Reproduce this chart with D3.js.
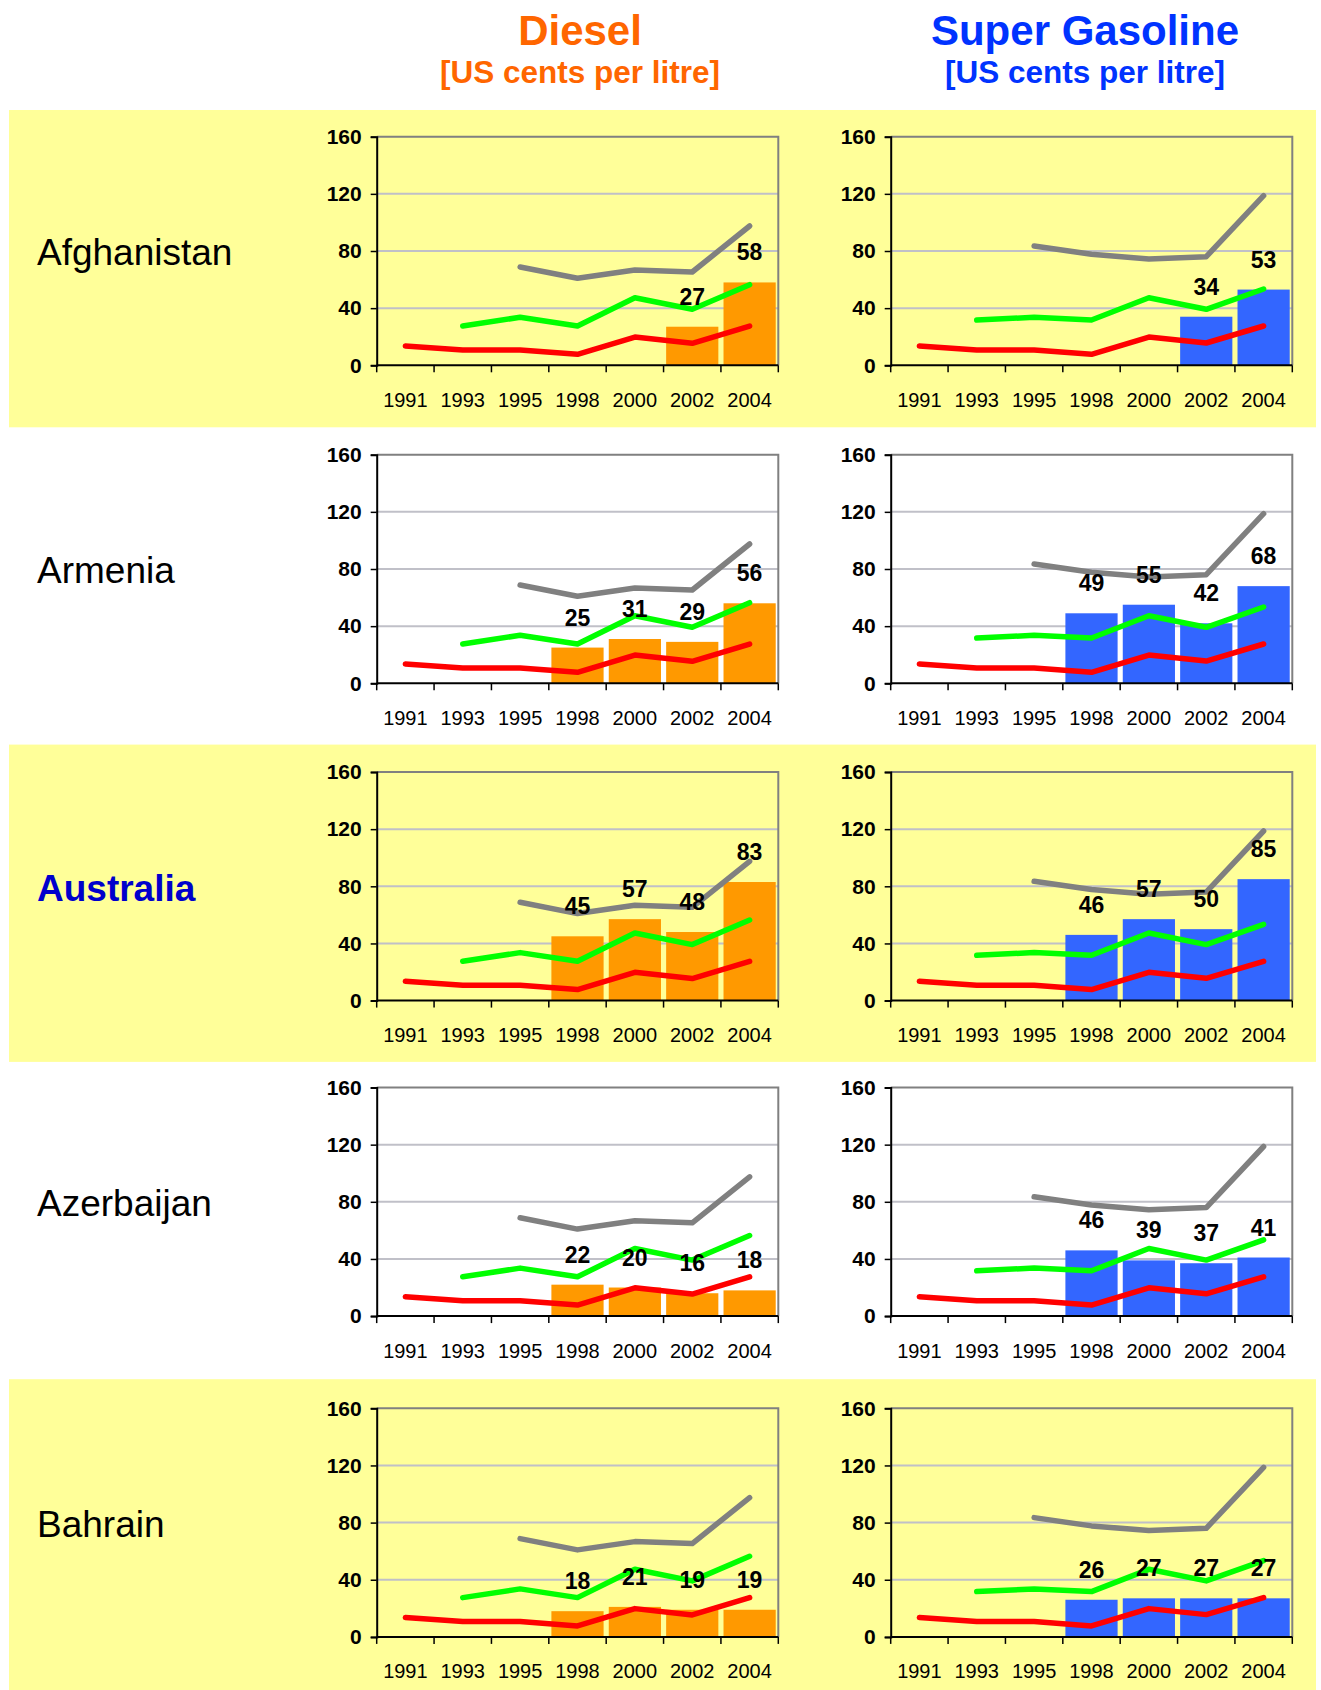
<!DOCTYPE html>
<html>
<head>
<meta charset="utf-8">
<script src="https://cdn.jsdelivr.net/npm/d3@7/dist/d3.min.js"></script>
<style>
  html, body { margin: 0; padding: 0; background: #ffffff; }
  svg { display: block; font-family: "Liberation Sans", Arial, sans-serif; }
</style>
</head>
<body>
<svg id="chart" width="1321" height="1690"></svg>
<script>
// ---- data ----
const years = ["1991", "1993", "1995", "1998", "2000", "2002", "2004"];
const countries = ["Afghanistan", "Armenia", "Australia", "Azerbaijan", "Bahrain"];
const highlighted = "Australia";
const yTicks = [0, 40, 80, 120, 160];

// retail prices per country (US cents per litre), null = no survey
const dieselPrices = [
  [null, null, null, null, null, 27, 58],
  [null, null, null, 25, 31, 29, 56],
  [null, null, null, 45, 57, 48, 83],
  [null, null, null, 22, 20, 16, 18],
  [null, null, null, 18, 21, 19, 19]
];
const gasolinePrices = [
  [null, null, null, null, null, 34, 53],
  [null, null, null, 49, 55, 42, 68],
  [null, null, null, 46, 57, 50, 85],
  [null, null, null, 46, 39, 37, 41],
  [null, null, null, 26, 27, 27, 27]
];

// benchmark lines, identical in every row
const dieselGrey  = [null, null, 68.8, 60.9, 66.7, 65.3, 97.5];
const dieselGreen = [null, 27.5, 33.6, 27.5, 47.3, 39.2, 56.4];
const dieselRed   = [13.5, 10.7, 10.7, 7.7, 19.8, 15.4, 27.5];
const gasGrey     = [null, null, 83.5, 77.7, 74.4, 76.0, 118.7];
const gasGreen    = [null, 31.7, 33.6, 31.7, 47.3, 39.2, 53.4];
const gasRed      = [13.5, 10.7, 10.7, 7.7, 19.8, 15.6, 27.5];

// ---- layout ----
const W = 1321, H = 1690;
const bandTop0 = 110, bandPitch = 317.3;
const plotTops = [136.7, 454.7, 772, 1087.5, 1408.3];
const plotH = 228.6, plotW = 401.6;
const panels = [
  { x0: 376.7, bars: dieselPrices, fill: "#FF9900",
    lines: [[dieselGrey, "#808080"], [dieselGreen, "#00FF00"], [dieselRed, "#FF0000"]] },
  { x0: 890.7, bars: gasolinePrices, fill: "#3366FF",
    lines: [[gasGrey, "#808080"], [gasGreen, "#00FF00"], [gasRed, "#FF0000"]] }
];

const svg = d3.select("#chart");

// alternating yellow row bands
countries.forEach((c, i) => {
  if (i % 2 === 0) {
    const top = bandTop0 + i * bandPitch;
    svg.append("rect")
      .attr("x", 9).attr("y", top)
      .attr("width", 1307).attr("height", Math.min(bandPitch, H - top))
      .attr("fill", "#FFFF99");
  }
});

// column titles
const titles = [
  { cx: 580, text: "Diesel", color: "#FF6600" },
  { cx: 1085, text: "Super Gasoline", color: "#0033FF" }
];
titles.forEach(t => {
  svg.append("text").attr("x", t.cx).attr("y", 45)
    .attr("text-anchor", "middle").attr("font-size", 42).attr("font-weight", "bold")
    .attr("fill", t.color).text(t.text);
  svg.append("text").attr("x", t.cx).attr("y", 83)
    .attr("text-anchor", "middle").attr("font-size", 31.5).attr("font-weight", "bold")
    .attr("fill", t.color).text("[US cents per litre]");
});

countries.forEach((country, ci) => {
  const top = plotTops[ci];
  const isHi = country === highlighted;
  svg.append("text")
    .attr("x", 37).attr("y", top + 128.6)
    .attr("font-size", 37)
    .attr("font-weight", isHi ? "bold" : "normal")
    .attr("fill", isHi ? "#0000CC" : "#000000")
    .text(country);

  panels.forEach(p => {
    const x = d3.scaleBand().domain(years).range([p.x0, p.x0 + plotW]).padding(0);
    const y = d3.scaleLinear().domain([0, 160]).range([top + plotH, top]);
    const g = svg.append("g");
    const bw = x.bandwidth();

    // horizontal gridlines
    g.selectAll("line.grid").data(yTicks.filter(v => v > 0 && v < 160)).join("line")
      .attr("x1", p.x0).attr("x2", p.x0 + plotW)
      .attr("y1", d => y(d)).attr("y2", d => y(d))
      .attr("stroke", "#C0C0C8").attr("stroke-width", 2);

    // top and right frame
    g.append("path")
      .attr("d", `M${p.x0},${y(160)}H${p.x0 + plotW}V${y(0)}`)
      .attr("fill", "none").attr("stroke", "#808080").attr("stroke-width", 2);

    // bars
    const barData = years.map((yr, i) => ({ yr, v: p.bars[ci][i] })).filter(d => d.v != null);
    g.selectAll("rect.bar").data(barData).join("rect")
      .attr("x", d => x(d.yr) + bw * 0.045)
      .attr("width", bw * 0.91)
      .attr("y", d => y(d.v))
      .attr("height", d => y(0) - y(d.v))
      .attr("fill", p.fill);

    // benchmark lines
    p.lines.forEach(([vals, color]) => {
      const pts = years.map((yr, i) => ({ yr, v: vals[i] }));
      const line = d3.line()
        .defined(d => d.v != null)
        .x(d => x(d.yr) + bw / 2)
        .y(d => y(d.v));
      g.append("path").datum(pts)
        .attr("d", line)
        .attr("fill", "none").attr("stroke", color)
        .attr("stroke-width", 5.5).attr("stroke-linejoin", "round").attr("stroke-linecap", "round");
    });

    // y axis
    const yAxis = g.append("g").attr("transform", `translate(${p.x0},0)`)
      .call(d3.axisLeft(y).tickValues(yTicks).tickSize(6).tickPadding(9));
    yAxis.select(".domain").attr("stroke", "#000").attr("stroke-width", 2);
    yAxis.selectAll(".tick line").attr("stroke", "#000").attr("stroke-width", 1.5);
    yAxis.selectAll(".tick text")
      .attr("font-family", "Liberation Sans, Arial, sans-serif")
      .attr("font-size", 21).attr("font-weight", "bold").attr("fill", "#000");

    // x axis: line, ticks between categories, labels centred in bands
    const xa = g.append("g");
    xa.append("line")
      .attr("x1", p.x0).attr("x2", p.x0 + plotW)
      .attr("y1", y(0)).attr("y2", y(0))
      .attr("stroke", "#000").attr("stroke-width", 2);
    const edges = years.map(yr => x(yr)).concat([p.x0 + plotW]);
    xa.selectAll("line.tk").data(edges).join("line")
      .attr("x1", d => d).attr("x2", d => d)
      .attr("y1", y(0)).attr("y2", y(0) + 7)
      .attr("stroke", "#000").attr("stroke-width", 1.5);
    xa.selectAll("text").data(years).join("text")
      .attr("x", d => x(d) + bw / 2).attr("y", y(0) + 41.5)
      .attr("text-anchor", "middle").attr("font-size", 20).attr("fill", "#000")
      .text(d => d);

    // value labels
    g.selectAll("text.val").data(barData).join("text")
      .attr("x", d => x(d.yr) + bw / 2)
      .attr("y", d => y(d.v) - 22)
      .attr("text-anchor", "middle").attr("font-size", 23).attr("font-weight", "bold")
      .attr("fill", "#000")
      .text(d => d.v);
  });
});
</script>
</body>
</html>
